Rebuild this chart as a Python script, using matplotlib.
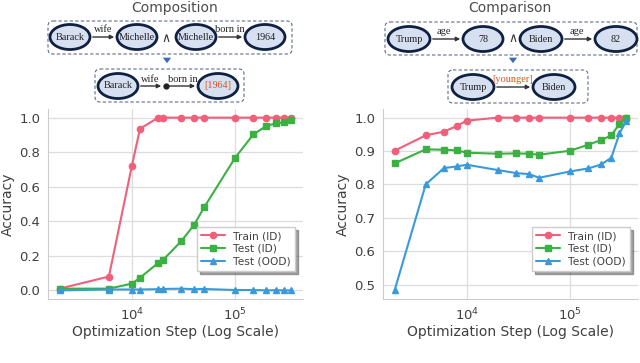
import matplotlib
matplotlib.use("Agg")
import matplotlib.pyplot as plt
from matplotlib.patches import Ellipse, FancyBboxPatch, FancyArrowPatch
import numpy as np
import seaborn as sns

# data
steps_comp = [2000, 6000, 10000, 12000, 18000, 20000, 30000, 40000, 50000,
              100000, 150000, 200000, 250000, 300000, 350000]
train_comp = [0.01, 0.08, 0.72, 0.936, 1.0, 1.0, 1.0, 1.0, 1.0,
              1.0, 1.0, 1.0, 1.0, 1.0, 1.0]
test_comp = [0.01, 0.01, 0.039, 0.073, 0.159, 0.176, 0.284, 0.379, 0.48,
             0.768, 0.903, 0.952, 0.967, 0.973, 0.986]
ood_comp = [0.0, 0.005, 0.005, 0.005, 0.007, 0.008, 0.01, 0.007, 0.008,
            0.002, 0.002, 0.0, 0.001, 0.0, 0.0]

steps_cmp = [2000, 4000, 6000, 8000, 10000, 20000, 30000, 40000, 50000,
             100000, 150000, 200000, 250000, 300000, 350000]
train_cmp = [0.901, 0.947, 0.958, 0.975, 0.991, 1.0, 1.0, 1.0, 1.0,
             1.0, 1.0, 1.0, 1.0, 1.0, 1.0]
test_cmp = [0.863, 0.905, 0.904, 0.902, 0.895, 0.892, 0.893, 0.892, 0.889,
            0.901, 0.919, 0.933, 0.947, 0.981, 1.0]
ood_cmp = [0.483, 0.80, 0.849, 0.854, 0.859, 0.843, 0.834, 0.831, 0.82,
           0.839, 0.848, 0.86, 0.88, 0.953, 0.991]

series_labels = ["Train (ID)", "Test (ID)", "Test (OOD)"]
series_colors = ["#f0607a", "#3cb043", "#3a9ad9"]
series_markers = ["o", "s", "^"]

sns.set_style("whitegrid")
plt.rcParams['font.family'] = ['DejaVu Sans']

fig = plt.figure(figsize=(6.4, 3.63), dpi=100)
W, H = 640, 363

def add_ax(l, r, t, b):
    return fig.add_axes([l / W, 1 - b / H, (r - l) / W, (b - t) / H])

ax1 = add_ax(48, 303, 109, 299)
ax2 = add_ax(383, 638, 109, 299)

for ax, steps, ys in [(ax1, steps_comp, [train_comp, test_comp, ood_comp]),
                      (ax2, steps_cmp, [train_cmp, test_cmp, ood_cmp])]:
    for y, lab, c, m in zip(ys, series_labels, series_colors, series_markers):
        ax.plot(steps, y, marker=m, color=c, label=lab, lw=1.5, ms=4.5)
    ax.set_xscale("log")
    ax.set_xlabel("Optimization Step (Log Scale)", fontsize=10, color=".25", labelpad=1)
    ax.set_ylabel("Accuracy", fontsize=10, color=".25", labelpad=3)
    ax.tick_params(labelsize=9.5, colors=".25", pad=2)
    ax.grid(True, which="major", color="#dddddd", lw=0.9)
    ax.minorticks_off()
    for s in ["top", "right"]:
        ax.spines[s].set_visible(False)
    for s in ["left", "bottom"]:
        ax.spines[s].set_color("#cccccc")
    leg = ax.legend(loc="lower right", fontsize=7.7, frameon=True, shadow=True,
                    fancybox=False, borderpad=0.4, handlelength=2.2,
                    labelspacing=0.25, bbox_to_anchor=(0.99, 0.12))
    for t in leg.get_texts():
        t.set_color(".25")

ax1.set_yticks([0.0, 0.2, 0.4, 0.6, 0.8, 1.0])
ax2.set_yticks([0.5, 0.6, 0.7, 0.8, 0.9, 1.0])

# diagram overlay in pixel coords
ov = fig.add_axes([0, 0, 1, 1], facecolor="none")
ov.set_xlim(0, W)
ov.set_ylim(H, 0)
ov.axis("off")

navy = "#102040"
fill = "#d6e0f0"
orange = "#d9541e"
serif = "Liberation Serif"

def box(x0, y0, x1, y1):
    ov.add_patch(FancyBboxPatch((x0, y0), x1 - x0, y1 - y0,
                                boxstyle="round,pad=0,rounding_size=5",
                                fill=False, ec="#5a6f8f", ls=(0, (3, 2)), lw=0.8))

def node(x, y, text, w=40, h=25, color="#222222"):
    ov.add_patch(Ellipse((x, y), w, h, fc=fill, ec=navy, lw=2.0))
    ov.text(x, y, text, ha="center", va="center", fontsize=7.3,
            family=serif, color=color)

def arrow(x0, x1, y, color="#333333"):
    ov.add_patch(FancyArrowPatch((x0, y), (x1, y), arrowstyle="-|>",
                                 mutation_scale=6, lw=1.0, color=color))

def rel(x, y, text, color="#222222"):
    ov.text(x, y, text, ha="center", va="center", fontsize=7.5,
            family=serif, color=color)

def down(x, y0, y1):
    ov.add_patch(FancyArrowPatch((x, y0), (x, y1),
                                 arrowstyle="simple,head_width=6,head_length=4,tail_width=3",
                                 mutation_scale=1, color="#3b6bb5", lw=0))

# Composition
ov.text(175, 8, "Composition", ha="center", va="center", fontsize=10, color=".3")
box(48, 21, 292, 54)
node(70, 37, "Barack")
node(137, 37, "Michelle")
node(196, 37, "Michelle")
node(265, 37, "1964")
arrow(90, 117, 37)
arrow(216, 245, 37)
rel(103, 30, "wife")
rel(230, 30, "born in")
ov.text(166, 38, r"$\wedge$", ha="center", va="center", fontsize=9, color="#333333")
down(167, 55, 66)
box(95, 69, 244, 102)
node(118, 86, "Barack")
node(218, 86, "[1964]", color=orange)
arrow(138, 164, 86)
arrow(166, 198, 86)
ov.plot([166], [86], "o", color="#222222", ms=3.5)
rel(150, 79, "wife")
rel(183, 79, "born in")

# Comparison
ov.text(510, 8, "Comparison", ha="center", va="center", fontsize=10, color=".3")
box(385, 22, 637, 55)
node(409, 39, "Trump", w=42)
node(483, 39, "78", w=40)
node(541, 39, "Biden", w=42)
node(616, 39, "82", w=42)
arrow(430, 463, 39)
arrow(562, 595, 39)
rel(444, 32, "age")
rel(577, 32, "age")
ov.text(513, 39, r"$\wedge$", ha="center", va="center", fontsize=9, color="#333333")
down(513, 55, 66)
box(448, 70, 588, 103)
node(473, 87, "Trump", w=42)
node(554, 87, "Biden", w=42)
arrow(494, 533, 87)
rel(513, 79, "[younger]", color=orange)

fig.savefig("out.png", dpi=100)
